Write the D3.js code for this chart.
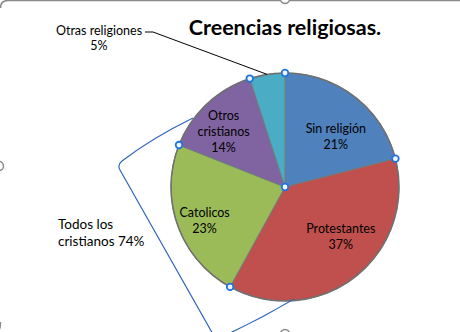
<!DOCTYPE html>
<html><head><meta charset="utf-8">
<script src="https://cdn.jsdelivr.net/npm/d3@7"></script>
<style>html,body{margin:0;padding:0;background:#fff;}svg{display:block;}</style>
</head><body>
<script>
const categories = ["Sin religión", "Protestantes", "Catolicos", "Otros cristianos", "Otras religiones"];
const labelLines = [["Sin religión"], ["Protestantes"], ["Catolicos"], ["Otros", "cristianos"], ["Otras religiones"]];
const values = [21, 37, 23, 14, 5];
const colors = ["#4F81BD", "#C0504D", "#9BBB59", "#8064A2", "#4BACC6"];
const title = "Creencias religiosas.";
const groupLabel = ["Todos los", "cristianos 74%"];

const W = 460, H = 332;
const cx = 285, cy = 187, R = 114;
const labelR = 78;
const nudges = [[3, 11], [8, -12], [-7, 7], [-8, 1]];
const FONT = "Lato, 'Open Sans', sans-serif";

const svg = d3.select("body").append("svg").attr("width", W).attr("height", H);

// chart frame
svg.append("path").attr("d", "M0.5,8 Q0.5,0.5 8,0.5 L470,0.5")
  .attr("fill", "none").attr("stroke", "#8a8a8a").attr("stroke-width", 1.5);
svg.append("path").attr("d", "M0.5,322 Q0.5,332 -4,332")
  .attr("fill", "none").attr("stroke", "#8a8a8a").attr("stroke-width", 1.5);
[[285, -1], [-1, 166], [285, 334]].forEach(([x, y]) => {
  svg.append("circle").attr("cx", x).attr("cy", y).attr("r", 4.5)
    .attr("fill", "#fff").attr("stroke", "#8a8a8a").attr("stroke-width", 1.5);
});

svg.append("text").attr("x", 285).attr("y", 35).attr("text-anchor", "middle")
  .attr("font-family", FONT).attr("font-weight", "bold").attr("font-size", 21.5)
  .attr("fill", "#000").text(title);

const pie = d3.pie().sort(null).value(d => d)(values);
const arc = d3.arc().innerRadius(0).outerRadius(R);
const labelArc = d3.arc().innerRadius(labelR).outerRadius(labelR);

const g = svg.append("g").attr("transform", `translate(${cx},${cy})`);
g.selectAll("path.slice").data(pie).enter().append("path")
  .attr("class", "slice").attr("d", arc)
  .attr("fill", (d, i) => colors[i])
  .attr("stroke", "#6f7c7c").attr("stroke-width", 1);
g.append("circle").attr("r", R).attr("fill", "none").attr("stroke", "#707070").attr("stroke-width", 1.5);

// inside labels
pie.slice(0, 4).forEach((d, i) => {
  const [x, y] = labelArc.centroid(d);
  const lines = labelLines[i].concat([values[i] + "%"]);
  const lh = 16;
  const t = g.append("text").attr("text-anchor", "middle")
    .attr("font-family", FONT).attr("font-size", 12.5).attr("fill", "#000");
  lines.forEach((l, k) => {
    t.append("tspan").attr("x", x + nudges[i][0])
      .attr("y", y + nudges[i][1] + (k - (lines.length - 1) / 2) * lh + 4.5).text(l);
  });
});

// outside label with leader
{
  const d = pie[4];
  const a = (d.startAngle + d.endAngle) / 2;
  const ex = cx + R * Math.sin(a), ey = cy - R * Math.cos(a);
  svg.append("polyline").attr("points", `145,32 153,32 ${ex},${ey}`)
    .attr("fill", "none").attr("stroke", "#000").attr("stroke-width", 1);
  const t = svg.append("text").attr("text-anchor", "middle")
    .attr("font-family", FONT).attr("font-size", 12.5).attr("fill", "#000");
  t.append("tspan").attr("x", 99).attr("y", 34.5).text(labelLines[4][0]);
  t.append("tspan").attr("x", 99).attr("y", 50).text(values[4] + "%");
}

// selection handles
const handles = pie.map(d => [cx + R * Math.sin(d.startAngle), cy - R * Math.cos(d.startAngle)]);
handles.push([cx, cy]);
handles.forEach(([x, y]) => {
  svg.append("circle").attr("cx", x).attr("cy", y).attr("r", 3.3)
    .attr("fill", "#eef5ff").attr("stroke", "#1f74e0").attr("stroke-width", 1.8);
});

// brace shape
svg.append("path").attr("d", "M193,118 Q152,138 122,161 Q117,165 120,170 L214,336")
  .attr("fill", "none").attr("stroke", "#2e65b8").attr("stroke-width", 1.2);
svg.append("path").attr("d", "M230,333 Q262,318 294,299")
  .attr("fill", "none").attr("stroke", "#2e65b8").attr("stroke-width", 1.2);

const gt = svg.append("text").attr("font-family", FONT).attr("font-size", 13.5).attr("fill", "#000");
gt.append("tspan").attr("x", 58).attr("y", 229).text(groupLabel[0]);
gt.append("tspan").attr("x", 58).attr("y", 246).text(groupLabel[1]);
</script>
</body></html>
